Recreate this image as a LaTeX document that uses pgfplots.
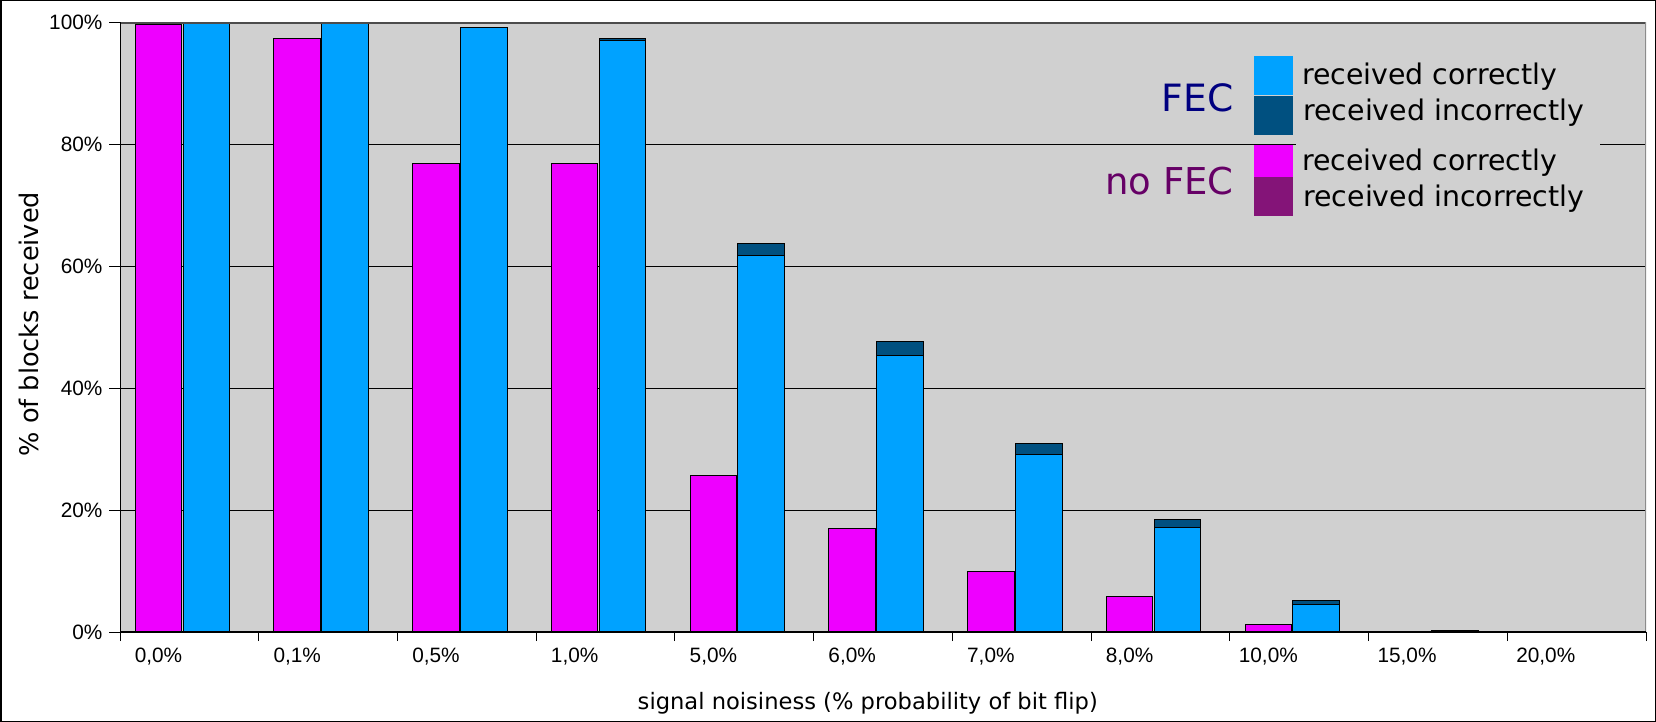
\documentclass[border=0pt]{standalone}
\usepackage{fontspec}
\setmainfont{DejaVu Sans}
\newfontfamily\tickfont{Liberation Sans}
\usepackage{pgfplots}
\pgfplotsset{compat=1.18}
\usepackage{pgfplotstable}

\definecolor{fecok}{RGB}{0,162,255}
\definecolor{fecbad}{RGB}{0,80,128}
\definecolor{rawok}{RGB}{238,0,255}
\definecolor{rawbad}{RGB}{132,20,120}
\definecolor{plotbg}{RGB}{208,208,208}
\definecolor{fectxt}{RGB}{0,0,128}
\definecolor{rawtxt}{RGB}{102,0,102}

% % of blocks: no FEC (raw) and FEC, received correctly / incorrectly
\pgfplotstableread{
x  rawok rawbad fecok fecbad
0  99.6  0      100   0
1  97.3  0      100   0
2  76.9  0      99.1  0
3  76.8  0      97.1  0.3
4  25.7  0      61.8  2.0
5  17.0  0      45.4  2.3
6  9.9   0      29.1  1.9
7  5.9   0      17.2  1.3
8  1.2   0      4.5   0.7
9  0     0      0.1   0.1
10 0     0      0     0
}\blocks

\begin{document}
\begin{tikzpicture}
\useasboundingbox (0,0) rectangle (828bp,361bp);
\begin{axis}[
  at={(60bp,45bp)}, anchor=south west,
  scale only axis, width=763bp, height=304.75bp,
  xmin=-0.5, xmax=10.5, ymin=0, ymax=100,
  axis background/.style={fill=plotbg},
  axis line style={draw=none},
  tick align=outside, xtick pos=bottom, ytick pos=left,
  xtick={0,...,10},
  xticklabels={{0,0\%},{0,1\%},{0,5\%},{1,0\%},{5,0\%},{6,0\%},{7,0\%},{8,0\%},{10,0\%},{15,0\%},{20,0\%}},
  major x tick style={draw=none},
  minor xtick={-0.5,0.5,...,10.5},
  minor x tick style={draw=black, line width=0.5bp},
  minor tick length=4.5bp,
  ytick={0,20,...,100},
  yticklabels={0\%,20\%,40\%,60\%,80\%,100\%},
  major tick length=5.3bp,
  major y tick style={draw=black, line width=0.5bp},
  ymajorgrids, major grid style={black, line width=0.5bp},
  ticklabel style={font=\tickfont\fontsize{10.4bp}{12bp}\selectfont},
  xticklabel style={anchor=base, inner sep=0pt, yshift=-9.9bp, xshift=-15.43bp},
  yticklabel style={anchor=east, inner sep=0pt, xshift=-3.3bp},
  xlabel={signal noisiness (\% probability of bit flip)},
  ylabel={\% of blocks received},
  every axis x label/.style={at={(axis description cs:0.49,0)}, anchor=base, inner sep=0pt, yshift=-38.5bp,
    font=\fontsize{11.3bp}{13bp}\selectfont},
  every axis y label/.style={at={(axis description cs:-0.0534,0.505)}, rotate=90, anchor=base, inner sep=0pt,
    font=\fontsize{12.8bp}{14bp}\selectfont},
  ybar, bar width=23.3bp,
  every axis plot/.append style={draw=black, line width=0.5bp},
]
\addplot[fill=rawbad, bar shift=-15.43bp] table[x=x, y expr=\thisrow{rawok}+\thisrow{rawbad}] {\blocks};
\addplot[fill=rawok, bar shift=-15.43bp] table[x=x, y=rawok] {\blocks};
\addplot[fill=fecbad, bar shift=8.5bp] table[x=x, y expr=\thisrow{fecok}+\thisrow{fecbad}] {\blocks};
\addplot[fill=fecok, bar shift=8.5bp] table[x=x, y=fecok] {\blocks};
\draw[black!70, line width=1.1bp] (rel axis cs:0,1) -- (rel axis cs:1,1);
\draw[black!45, line width=1.4bp] (rel axis cs:1,1) -- (rel axis cs:1,0);
\draw[black, line width=0.6bp] (rel axis cs:0,1) -- (rel axis cs:0,0) -- (rel axis cs:1,0);
\end{axis}
% legend
\fill[plotbg] (648bp,251bp) rectangle (800bp,336bp);
\fill[fecok]  (627bp,313.5bp) rectangle (646.5bp,333bp);
\fill[fecbad] (627bp,293.6bp) rectangle (646.5bp,313bp);
\fill[rawok]  (627bp,272.5bp) rectangle (646.5bp,288.5bp);
\fill[rawbad] (627bp,253.2bp) rectangle (646.5bp,272.5bp);
\begin{scope}[every node/.style={inner sep=0pt, font=\fontsize{14.2bp}{16bp}\selectfont}]
\node[anchor=base west] at (650.8bp,318.5bp) {received correctly};
\node[anchor=base west] at (651.5bp,300.5bp) {received incorrectly};
\node[anchor=base west] at (650.8bp,275.5bp) {received correctly};
\node[anchor=base west] at (651.5bp,257.6bp) {received incorrectly};
\end{scope}
\node[anchor=base east, inner sep=0pt, text=fectxt, font=\fontsize{18.8bp}{20bp}\selectfont] at (617bp,305.2bp) {FEC};
\node[anchor=base east, inner sep=0pt, text=rawtxt, font=\fontsize{18.5bp}{20bp}\selectfont] at (617bp,263.5bp) {no FEC};
\draw[black, line width=0.75bp] (0.375bp,0.375bp) rectangle (827.625bp,360.625bp);
\end{tikzpicture}
\end{document}
